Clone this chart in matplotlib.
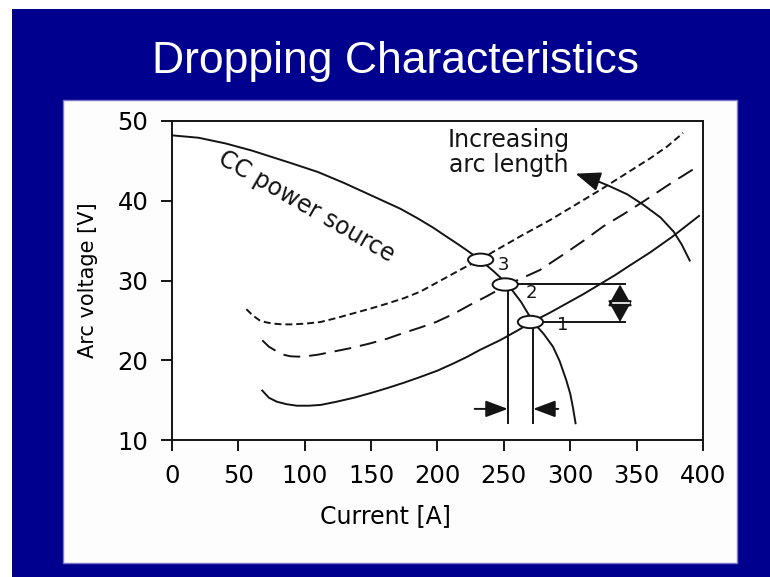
import matplotlib
matplotlib.use("Agg")
import matplotlib.pyplot as plt
from matplotlib.patches import Ellipse, Rectangle

BLUE = "#00008e"
INK = "#141414"
LW = 1.4

# CC power source (dropping characteristic)
cc_i = [0, 20, 40, 60, 90, 110, 130, 151, 172, 185, 197, 205, 215, 222, 232,
        242, 253, 263, 272, 280, 287, 292, 297, 300, 302, 304]
cc_v = [48.2, 47.9, 47.2, 46.3, 44.7, 43.6, 42.2, 40.6, 39.0, 37.8, 36.6, 35.7, 34.6, 33.8, 32.6,
        31.2, 29.5, 27.3, 24.8, 23.3, 21.7, 19.9, 17.5, 15.8, 14.1, 12.1]

# arc characteristics, shortest arc (solid) to longest arc (short dash)
arc1_i = [68, 73, 79, 86, 94, 103, 112, 124, 137, 150, 162, 175, 187, 200, 212, 222, 232,
          247, 260, 271, 284, 297, 310, 322, 334, 345, 360, 377, 397]
arc1_v = [16.2, 15.3, 14.8, 14.5, 14.3, 14.3, 14.4, 14.8, 15.3, 15.9, 16.5, 17.2, 17.9, 18.7,
          19.6, 20.4, 21.3, 22.5, 23.7, 24.8, 25.9, 27.1, 28.3, 29.5, 30.7, 31.9, 33.5, 35.5, 38.1]

arc2_i = [68, 73, 79, 84, 89, 95, 101, 110, 119, 134, 149, 162, 174, 187, 199, 212, 224,
          238, 253, 265, 277, 287, 297, 311, 325, 340, 355, 375, 396]
arc2_v = [22.5, 21.7, 21.1, 20.7, 20.5, 20.45, 20.5, 20.7, 21.0, 21.5, 22.1, 22.7, 23.4, 24.1,
          24.8, 25.8, 26.9, 28.1, 29.5, 30.4, 31.3, 32.4, 33.5, 35.1, 36.8, 38.3, 39.9, 42.1, 44.3]

arc3_i = [56, 61, 66, 71, 76, 83, 91, 101, 112, 124, 137, 150, 162, 175, 187, 198, 209,
          220, 232, 242, 263, 285, 303, 322, 341, 360, 373, 385]
arc3_v = [26.4, 25.6, 25.0, 24.75, 24.6, 24.5, 24.5, 24.6, 24.8, 25.3, 25.9, 26.5, 27.1, 27.8,
          28.6, 29.6, 30.6, 31.6, 32.6, 33.6, 35.6, 37.6, 39.4, 41.3, 43.3, 45.3, 46.8, 48.5]

# "increasing arc length" sweep
sweep_i = [390, 384, 378, 368, 355, 343, 330, 320, 304]
sweep_v = [32.5, 34.5, 36.1, 37.9, 39.5, 40.8, 41.8, 42.5, 43.4]

# operating points 1, 2, 3
op_i = [270, 251, 232.5]
op_v = [24.8, 29.5, 32.6]
op_lab = ["1", "2", "3"]
drop_i = [272, 253]          # current read-off of points 1 and 2
drop_v = [24.8, 29.5]

xticks = [0, 50, 100, 150, 200, 250, 300, 350, 400]
yticks = [10, 20, 30, 40, 50]

W, H = 770, 577
fig = plt.figure(figsize=(7.7, 5.77), dpi=100)
fig.patch.set_facecolor("white")
fig.add_artist(Rectangle((12 / W, 0), 1 - 12 / W, 1 - 9 / H, transform=fig.transFigure,
                         fc=BLUE, ec="none", zorder=-3))
fig.add_artist(Rectangle((63 / W, 1 - 563 / H), 674 / W, 463 / H, transform=fig.transFigure,
                         fc="#fdfdfd", ec="#7a7ad0", lw=1, zorder=-2))
fig.text(395 / W, 1 - 73 / H, "Dropping Characteristics", ha="center", va="baseline",
         color="white", fontsize=32, family="Liberation Sans")

ax = fig.add_axes([172 / W, 1 - 440 / H, 531 / W, 319 / H])
ax.set_xlim(0, 400)
ax.set_ylim(10, 50)
ax.set_xticks(xticks)
ax.set_yticks(yticks)
for s in ax.spines.values():
    s.set_linewidth(LW)
    s.set_color(INK)
ax.tick_params(direction="out", length=8, width=LW, labelsize=17.5, color=INK)
ax.tick_params(axis="x", pad=9)
ax.tick_params(axis="y", pad=9)
ax.set_xlabel("Current [A]", fontsize=17)
ax.xaxis.set_label_coords(0.402, -0.20)
ax.set_ylabel("Arc voltage [V]", fontsize=15)
ax.yaxis.set_label_coords(-0.14, 0.5)

line = dict(color=INK, lw=LW, clip_on=False, solid_joinstyle="round", dash_joinstyle="round")
ax.plot(cc_i, cc_v, **line)
ax.plot(arc1_i, arc1_v, **line)
ax.plot(arc2_i, arc2_v, dashes=(8.7, 4.6), **line)
ax.plot(arc3_i, arc3_v, dashes=(3.6, 2.0), **line)

# sweep arrow
ax.plot(sweep_i[:-1], sweep_v[:-1], **line)
ax.annotate("", xy=(sweep_i[-1], sweep_v[-1]), xytext=(sweep_i[-2], sweep_v[-2]),
            arrowprops=dict(arrowstyle="-|>,head_length=0.9,head_width=0.35", mutation_scale=17,
                            color=INK, lw=LW, shrinkA=0, shrinkB=0))
ax.text(254, 46.0, "Increasing\narc length", ha="center", va="center", fontsize=17,
        linespacing=1.05, color=INK)

ax.text(101, 39.3, "CC power source", ha="center", va="center", rotation=-30,
        fontsize=17, color=INK)

# read-off lines
for i, v in zip(drop_i, drop_v):
    ax.plot([i, i], [v, 12.1], color=INK, lw=LW)
    ax.plot([i, 341], [v, v], color=INK, lw=LW)

ap = dict(arrowstyle="-|>,head_length=0.8,head_width=0.3", mutation_scale=17,
          color=INK, lw=LW, shrinkA=0, shrinkB=0)
ax.annotate("", xy=(drop_i[1], 13.9), xytext=(228, 13.9), arrowprops=ap)
ax.annotate("", xy=(drop_i[0], 13.9), xytext=(291, 13.9), arrowprops=ap)
ax.annotate("", xy=(337.5, drop_v[1]), xytext=(337.5, drop_v[0]),
            arrowprops=dict(arrowstyle="<|-|>,head_length=0.8,head_width=0.45",
                            mutation_scale=17, color=INK, lw=LW, shrinkA=0, shrinkB=0))
ax.plot([332, 344], [27.15, 27.15], color="white", lw=1.2, zorder=4)

offs = [(24, -0.4), (19.5, -1.1), (17.5, -0.7)]
for i, v, lab, (dx, dv) in zip(op_i, op_v, op_lab, offs):
    ax.add_patch(Ellipse((i, v), 19, 1.55, fc="white", ec=INK, lw=LW, zorder=5))
    ax.text(i + dx, v + dv, lab, ha="center", va="center", fontsize=13, color=INK, zorder=6)

fig.savefig("out.png", dpi=100)
